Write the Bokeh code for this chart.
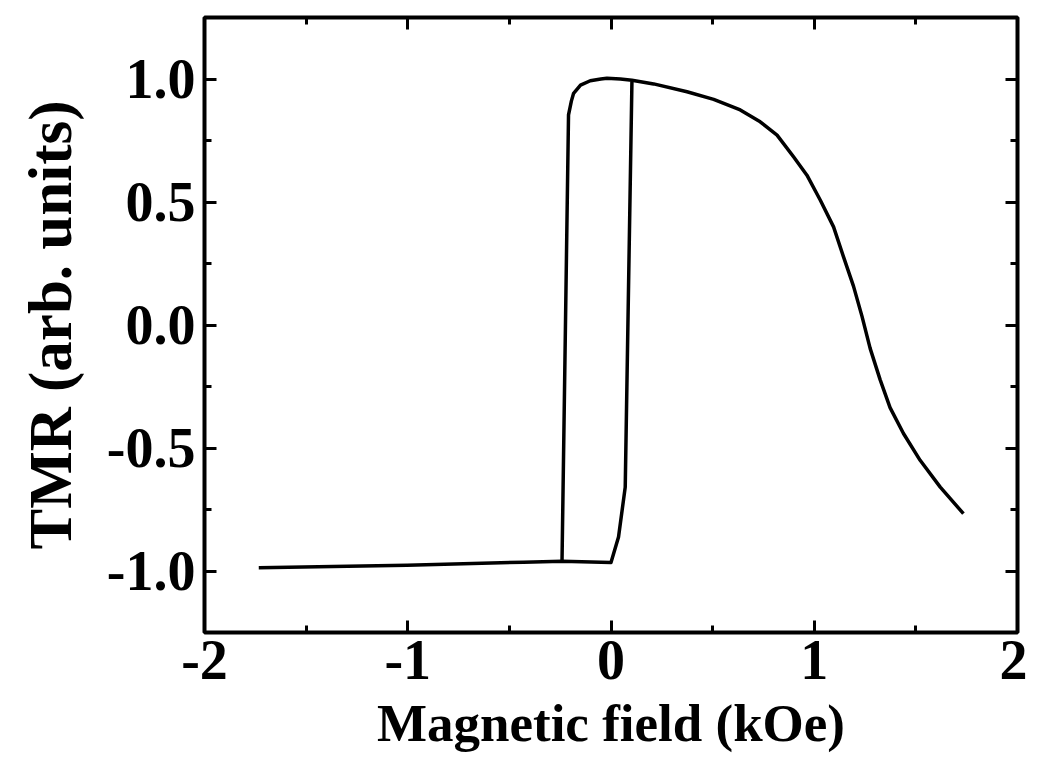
from bokeh.plotting import figure
from bokeh.models import LinearAxis, FixedTicker, PrintfTickFormatter, Range1d
from bokeh.embed import file_html
from bokeh.resources import INLINE

# sweep from high field down to negative field (upper branch)
down_field = [1.734, 1.620, 1.521, 1.439, 1.373, 1.324, 1.275, 1.235, 1.193, 1.144,
              1.095, 1.030, 0.964, 0.898, 0.817, 0.734, 0.636, 0.505, 0.374, 0.21,
              0.103, 0.046, -0.02, -0.05, -0.102, -0.15, -0.184, -0.195, -0.209, -0.241]
down_tmr = [-0.767, -0.659, -0.550, -0.441, -0.336, -0.222, -0.095, 0.035, 0.158, 0.277,
            0.399, 0.507, 0.609, 0.684, 0.772, 0.826, 0.874, 0.917, 0.948, 0.980,
            0.995, 1.000, 1.003, 1.000, 0.993, 0.975, 0.942, 0.91, 0.854, -0.96]
# sweep from negative field up (lower branch)
up_field = [-1.733, -1.003, -0.43, -0.241, 0.0, 0.037, 0.070, 0.103]
up_tmr = [-0.987, -0.977, -0.964, -0.96, -0.965, -0.862, -0.659, 0.99]

x_major = [-2, -1, 0, 1, 2]
x_minor = [-1.5, -0.5, 0.5, 1.5]
y_major = [-1.0, -0.5, 0.0, 0.5, 1.0]
y_minor = [-1.25, -0.75, -0.25, 0.25, 0.75, 1.25]

FONT = "Liberation Serif"

p = figure(width=1027, height=758, output_backend="svg", toolbar_location=None,
           x_range=Range1d(-2, 2), y_range=Range1d(-1.25, 1.25),
           frame_width=813, frame_height=615,
           min_border_left=204, min_border_top=17, min_border_right=10, min_border_bottom=10)
p.background_fill_color = "white"
p.border_fill_color = "white"
p.grid.visible = False
p.outline_line_color = "black"
p.outline_line_width = 4

p.line(down_field, down_tmr, line_color="black", line_width=3.5, line_join="round")
p.line(up_field, up_tmr, line_color="black", line_width=3.5, line_join="round")

xt = FixedTicker(ticks=x_major, minor_ticks=x_minor)
yt = FixedTicker(ticks=y_major, minor_ticks=y_minor)

def style(ax, labels=True):
    ax.axis_line_color = None
    ax.major_tick_line_color = "black"
    ax.minor_tick_line_color = "black"
    ax.major_tick_line_width = 3
    ax.minor_tick_line_width = 3
    ax.major_tick_in = 12
    ax.major_tick_out = 0
    ax.minor_tick_in = 7
    ax.minor_tick_out = 0
    if labels:
        ax.major_label_text_font = FONT
        ax.major_label_text_font_style = "bold"
        ax.major_label_text_color = "black"
    else:
        ax.major_label_text_font_size = "0px"
        ax.major_label_text_color = None

xa = p.xaxis[0]
xa.ticker = xt
xa.formatter = PrintfTickFormatter(format="%d")
style(xa)
xa.major_label_text_font_size = "56px"
xa.major_label_standoff = 8
xa.axis_label = "Magnetic field (kOe)"
xa.axis_label_text_font = FONT
xa.axis_label_text_font_style = "bold"
xa.axis_label_text_font_size = "53px"
xa.axis_label_text_color = "black"
xa.axis_label_standoff = 12

ya = p.yaxis[0]
ya.ticker = yt
ya.formatter = PrintfTickFormatter(format="%.1f")
style(ya)
ya.major_label_text_font_size = "56px"
ya.major_label_standoff = 9
ya.axis_label = "TMR (arb. units)"
ya.axis_label_text_font = FONT
ya.axis_label_text_font_style = "bold"
ya.axis_label_text_font_size = "61px"
ya.axis_label_text_color = "black"
ya.axis_label_standoff = 20

top = LinearAxis(ticker=FixedTicker(ticks=x_major, minor_ticks=x_minor))
style(top, labels=False)
p.add_layout(top, "above")
right = LinearAxis(ticker=FixedTicker(ticks=y_major, minor_ticks=y_minor))
style(right, labels=False)
p.add_layout(right, "right")

open("out.html", "w").write(file_html(p, INLINE))
